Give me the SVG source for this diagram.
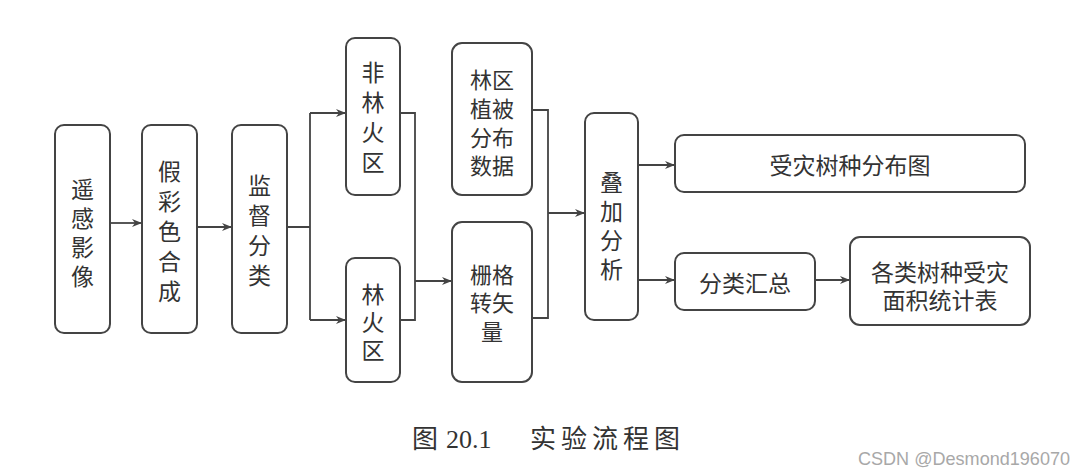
<svg xmlns="http://www.w3.org/2000/svg" width="1088" height="474" viewBox="0 0 1088 474">
<style>
.box{fill:#fff;stroke:#444;stroke-width:2}
.t{font-family:"Noto Sans CJK SC","Noto Sans",sans-serif;font-size:23px;fill:#333;text-anchor:middle}
.v{writing-mode:vertical-rl;text-orientation:upright}
.ln{fill:none;stroke:#444;stroke-width:1.8}
.cap{font-family:"Liberation Serif","Noto Sans CJK SC",serif;font-size:26px;fill:#333}
.wm{font-family:"Liberation Sans","DejaVu Sans",sans-serif;font-size:19px;fill:#a8a8a8}
</style>
<defs>
<marker id="ah" markerUnits="userSpaceOnUse" markerWidth="11" markerHeight="9" refX="10" refY="4.5" orient="auto">
<path d="M0,0.5 L10,4.5 L0,8.5 L3,4.5 z" fill="#444"/>
</marker>
</defs>
<rect width="1088" height="474" fill="#fff"/>
<g id="n1"><rect class="box" x="55" y="125" width="55" height="208" rx="9"/>
<text class="t v" x="82.5" y="236" letter-spacing="6">遥感影像</text></g>
<g id="n2"><rect class="box" x="142" y="125" width="55" height="208" rx="9"/>
<text class="t v" x="169.5" y="235" letter-spacing="7">假彩色合成</text></g>
<g id="n3"><rect class="box" x="232" y="125" width="55" height="208" rx="9"/>
<text class="t v" x="259.5" y="234" letter-spacing="7">监督分类</text></g>
<g id="n4"><rect class="box" x="346" y="38" width="54" height="157" rx="9"/>
<text class="t v" x="373" y="121" letter-spacing="7">非林火区</text></g>
<g id="n5"><rect class="box" x="346" y="258" width="54" height="124" rx="9"/>
<text class="t v" x="373" y="325" letter-spacing="5">林火区</text></g>
<g id="n6"><rect class="box" x="452" y="43" width="80" height="152" rx="10"/>
<text class="t" style="font-size:22px"><tspan x="492" y="88">林区</tspan><tspan x="492" y="117">植被</tspan><tspan x="492" y="146">分布</tspan><tspan x="492" y="174">数据</tspan></text></g>
<g id="n7"><rect class="box" x="452" y="222" width="80" height="160" rx="10"/>
<text class="t" style="font-size:22px"><tspan x="492" y="283">栅格</tspan><tspan x="492" y="311">转矢</tspan><tspan x="492" y="340">量</tspan></text></g>
<g id="n8"><rect class="box" x="585" y="113" width="53" height="207" rx="9"/>
<text class="t v" x="611.5" y="229" letter-spacing="6">叠加分析</text></g>
<g id="n9"><rect class="box" x="675" y="135" width="350" height="57" rx="9"/>
<text class="t" x="850" y="174">受灾树种分布图</text></g>
<g id="n10"><rect class="box" x="675" y="253" width="140" height="57" rx="9"/>
<text class="t" x="745" y="292">分类汇总</text></g>
<g id="n11"><rect class="box" x="850" y="237" width="180" height="88" rx="10"/>
<text class="t"><tspan x="940" y="281">各类树种受灾</tspan><tspan x="940" y="309">面积统计表</tspan></text></g>
<g id="connectors">
<path class="ln" d="M110,223 H142" marker-end="url(#ah)"/>
<path class="ln" d="M197,227 H232" marker-end="url(#ah)"/>
<path class="ln" d="M287,227 H310 M310,113 V320"/>
<path class="ln" d="M310,113 H346" marker-end="url(#ah)"/>
<path class="ln" d="M310,320 H346" marker-end="url(#ah)"/>
<path class="ln" d="M400,113 H415 V320 H400"/>
<path class="ln" d="M415,281 H452" marker-end="url(#ah)"/>
<path class="ln" d="M532,110 H548 V318 H532"/>
<path class="ln" d="M548,213 H585" marker-end="url(#ah)"/>
<path class="ln" d="M638,165 H675" marker-end="url(#ah)"/>
<path class="ln" d="M638,280 H675" marker-end="url(#ah)"/>
<path class="ln" d="M815,280 H850" marker-end="url(#ah)"/>
</g>
<g id="caption">
<text class="cap" x="412" y="448">图</text>
<text class="cap" x="446" y="448">20.1</text>
<text class="cap" x="530" y="448" textLength="150" lengthAdjust="spacing">实验流程图</text>
</g>
<text class="wm" x="858" y="465" textLength="212" lengthAdjust="spacingAndGlyphs">CSDN @Desmond196070</text>
</svg>
